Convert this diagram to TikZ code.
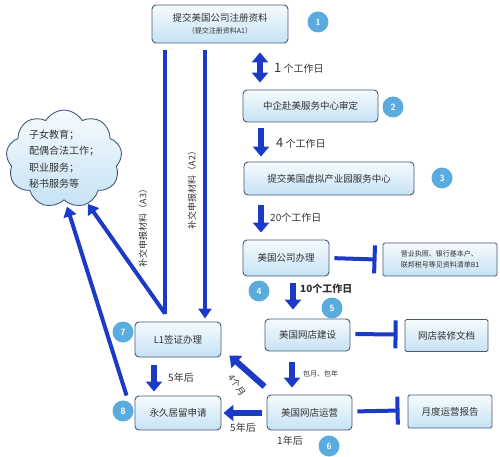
\documentclass[tikz,border=0pt]{standalone}
\usepackage{fontspec}
\setmainfont{Noto Sans CJK SC}
\usetikzlibrary{arrows.meta,shapes.symbols}
\definecolor{arrowblue}{RGB}{28,58,200}
\definecolor{boxline}{RGB}{70,90,120}
\definecolor{boxtop}{RGB}{246,251,254}
\definecolor{boxbot}{RGB}{198,226,244}
\definecolor{circ}{RGB}{90,172,222}
\definecolor{txt}{RGB}{50,50,50}
\tikzset{
  box/.style={draw=boxline, line width=0.9pt, rounded corners=4pt, top color=boxtop, bottom color=boxbot, inner sep=0pt, font=\fontsize{9.5}{11}\selectfont, text=txt, align=center},
  fat/.style={draw=arrowblue, line width=6pt, -{Triangle[width=16pt,length=10pt]}},
  fatboth/.style={draw=arrowblue, line width=6pt, {Triangle[width=16pt,length=10pt]}-{Triangle[width=16pt,length=10pt]}},
  slim/.style={draw=arrowblue, line width=4pt, -{Triangle[width=13pt,length=10pt]}},
  slimline/.style={draw=arrowblue, line width=4pt},
  barline/.style={draw=arrowblue, line width=4pt, -{Bar[width=28pt]}},
  lbl/.style={font=\fontsize{10}{12}\selectfont, text=txt, inner sep=0pt},
  num/.style={circle, fill=circ, text=white, minimum size=21pt, inner sep=0pt, font=\sffamily\bfseries\fontsize{9}{9}\selectfont}
}
\begin{document}
\begin{tikzpicture}[x=1pt,y=-1pt]
\useasboundingbox (0,0) rectangle (500,457);

% boxes
\node[box, minimum width=136pt, minimum height=38pt] (b1) at (220,24)
  {提交美国公司注册资料\\[1pt]{\fontsize{7}{8}\selectfont （提交注册资料A1）}};
\node[box, minimum width=135pt, minimum height=32pt] (b2) at (310.5,106) {中企赴美服务中心审定};
\node[box, minimum width=170pt, minimum height=33pt] (b3) at (329,178.5) {提交美国虚拟产业园服务中心};
\node[box, minimum width=86pt, minimum height=36pt] (b4) at (286,258) {美国公司办理};
\node[box, rounded corners=1.5pt, minimum width=114pt, minimum height=33pt, align=left, font=\fontsize{7}{11.5}\selectfont] (bb1) at (440,259.5)
  {营业执照、银行基本户、\\联邦税号等见资料清单B1};
\node[box, minimum width=85pt, minimum height=32pt] (b5) at (307.5,335) {美国网店建设};
\node[box, rounded corners=1.5pt, minimum width=83pt, minimum height=32pt] (bdoc) at (446.5,335.5) {网店装修文档};
\node[box, minimum width=85pt, minimum height=35pt] (b6) at (309.5,412.5) {美国网店运营};
\node[box, rounded corners=1.5pt, minimum width=84pt, minimum height=33pt] (brep) at (450,411.5) {月度运营报告};
\node[box, minimum width=86pt, minimum height=35pt] (b7) at (178,339.5) {L1签证办理};
\node[box, minimum width=86pt, minimum height=34pt] (b8) at (178,413) {永久居留申请};

% cloud
\node[cloud, cloud puffs=9, cloud puff arc=120, aspect=1.2, draw=boxline, line width=0.9pt,
      top color=boxtop, bottom color=boxbot, inner sep=0pt, minimum width=116pt, minimum height=96pt,
      align=left, font=\fontsize{10}{16.5}\selectfont, text=txt] (cl) at (64,159)
  {子女教育；\\配偶合法工作；\\职业服务；\\秘书服务等};

% numbered circles
\node[num] (n1) at (318,22) {1};
\node[num] (n2) at (393,107) {2};
\node[num] (n3) at (442,178) {3};
\node[num] (n4) at (259,291) {4};
\node[num] (n5) at (332,308) {5};
\node[num] (n6) at (329,446) {6};
\node[num] (n7) at (123,332) {7};
\node[num] (n8) at (123,411) {8};

% main chain arrows
\draw[fatboth, shorten <=9pt, shorten >=7pt] ([xshift=40pt]b1.south) -- ([xshift=-50.5pt]b2.north);
\node[lbl, anchor=west] (t1) at (274,68) {{\fontsize{13}{13}\selectfont 1} 个工作日};
\draw[fat, shorten <=6pt, shorten >=5pt] ([xshift=-49.5pt]b2.south) -- ([xshift=-68pt]b3.north);
\node[lbl, anchor=west] (t2) at (276,143) {{\fontsize{13}{13}\selectfont 4} 个工作日};
\draw[fat, shorten <=10pt, shorten >=7pt] ([xshift=-68pt]b3.south) -- ([xshift=-25pt]b4.north);
\node[lbl, anchor=west] (t3) at (270,218) {20个工作日};
\draw[fat, shorten <=7pt, shorten >=9pt] ([xshift=7pt]b4.south) -- ([xshift=-14.5pt]b5.north);
\node[lbl, anchor=west, font=\bfseries\fontsize{10}{12}\selectfont] (t4) at (300,289) {10个工作日};
\draw[fat, shorten <=11pt, shorten >=7pt] ([xshift=-15.5pt]b5.south) -- ([xshift=-17.5pt]b6.north);
\node[lbl, anchor=west, font=\fontsize{7}{8}\selectfont] (t5) at (303,374) {包月、包年};

% side bars
\draw[barline, shorten <=5pt] (b4.east) -- ([xshift=-6pt]bb1.west);
\draw[barline, shorten <=5pt] ([yshift=1pt]b5.east) -- ([xshift=-7pt,yshift=1pt]bdoc.west);
\draw[barline, shorten <=5pt] ([yshift=1pt]b6.east) -- ([xshift=-8pt,yshift=1pt]brep.west);

% lower arrows
\draw[fat, shorten <=8pt, shorten >=4pt] ([xshift=-24pt]b7.south) -- ([xshift=-24pt]b8.north);
\node[lbl, anchor=west] (t6) at (168,378) {5年后};
\draw[fat, shorten <=5pt, shorten >=2pt] ([yshift=-0.5pt]b6.west) -- (b8.east);
\node[lbl] (t7) at (243,428) {5年后};
\node[lbl] (t8) at (290,441) {1年后};
\draw[fat] ([xshift=-2pt,yshift=8pt]b6.north west) -- ([xshift=8pt,yshift=2pt]b7.south east);
\node[lbl, rotate=-55, font=\fontsize{9}{10}\selectfont] (t9) at (237,385) {4个月};

% supplement lines
\coordinate (j7) at ([xshift=-13pt,yshift=8pt]b7.north);
\draw[slimline, shorten <=7pt] ([xshift=-55pt]b1.south) -- (j7);
\draw[slim] (j7) -- (cl.-62);
\draw[slim, shorten <=7pt, shorten >=3pt] ([xshift=-15pt]b1.south) -- ([xshift=27pt]b7.north);
\draw[slim, shorten >=5pt] ([xshift=-8pt]b8.north west) -- (cl.-88);
\node[lbl, rotate=90, font=\fontsize{9}{10}\selectfont] (ta3) at (143,226) {补交申报材料（A3）};
\node[lbl, rotate=90, font=\fontsize{9}{10}\selectfont] (ta2) at (192,188) {补交申报材料（A2）};
\end{tikzpicture}
\end{document}
